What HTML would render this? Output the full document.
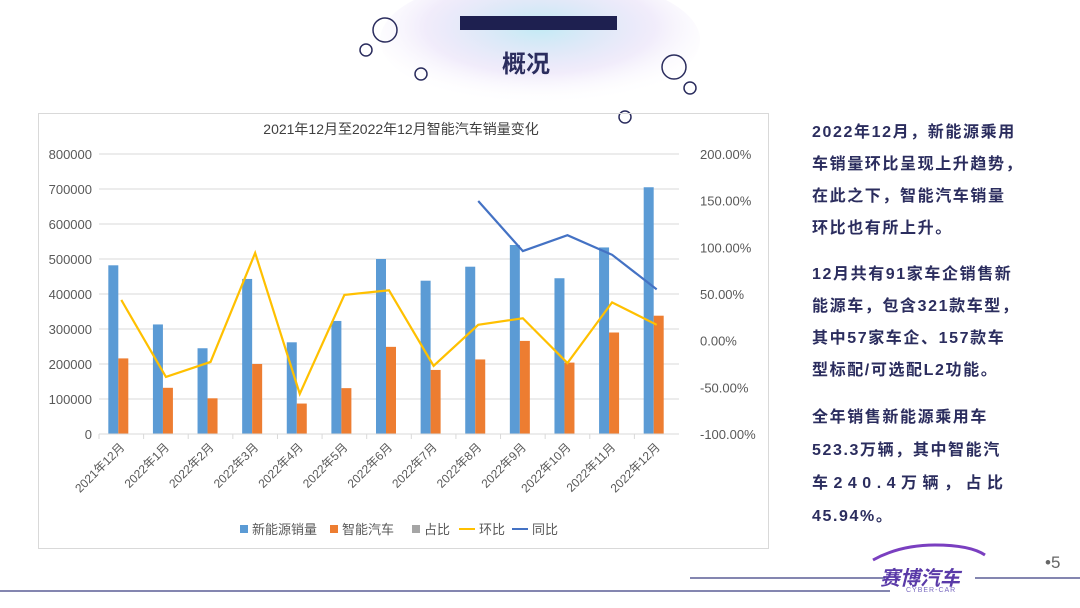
<!DOCTYPE html>
<html><head><meta charset="utf-8"><style>
body{margin:0;width:1080px;height:608px;overflow:hidden;background:#fff;font-family:"Liberation Sans","Noto Sans CJK SC",sans-serif;position:relative}
.abs{position:absolute}
.txt{left:812px;white-space:nowrap;color:#2b2d5e;font-weight:bold;font-size:16px;line-height:32px;letter-spacing:1.6px}
</style></head><body>
<svg class="abs" style="left:0;top:0" width="1080" height="608">
<defs><radialGradient id="g1" cx="50%" cy="40%" r="60%"><stop offset="0" stop-color="#8fdcec" stop-opacity="0.55"/><stop offset="0.6" stop-color="#c7b4ee" stop-opacity="0.25"/><stop offset="1" stop-color="#fff" stop-opacity="0"/></radialGradient></defs>
<ellipse cx="540" cy="40" rx="160" ry="65" fill="url(#g1)"/>
<circle cx="385" cy="30" r="12" fill="none" stroke="#2b2d5e" stroke-width="1.5"/>
<circle cx="366" cy="50" r="6" fill="none" stroke="#2b2d5e" stroke-width="1.5"/>
<circle cx="421" cy="74" r="6" fill="none" stroke="#2b2d5e" stroke-width="1.5"/>
<circle cx="674" cy="67" r="12" fill="none" stroke="#2b2d5e" stroke-width="1.5"/>
<circle cx="690" cy="88" r="6" fill="none" stroke="#2b2d5e" stroke-width="1.5"/>
<circle cx="625" cy="117" r="6" fill="none" stroke="#2b2d5e" stroke-width="1.5"/>
<rect x="460" y="16" width="157" height="14" fill="#1e2050"/>
<line x1="690" y1="578" x2="885" y2="578" stroke="#3a3d80" stroke-width="1.2"/>
<line x1="975" y1="578" x2="1080" y2="578" stroke="#3a3d80" stroke-width="1.2"/>
<line x1="0" y1="591" x2="890" y2="591" stroke="#3a3d80" stroke-width="1.2"/>
<path d="M873 560 Q900 545 935 545 Q970 545 985 555" fill="none" stroke="#7a3fc0" stroke-width="3"/>
</svg>
<div class="abs" style="left:502px;top:44px;font-size:24px;font-weight:bold;color:#2b2d5e">概况</div>
<div class="abs" style="left:880px;top:562px;font-size:20px;font-weight:bold;font-style:italic;color:#5a3aa8">赛博汽车</div>
<div class="abs" style="left:906px;top:587px;font-size:7px;color:#7a6ac0;letter-spacing:1px">CYBER-CAR</div>
<div class="abs" style="left:1045px;top:553px;font-size:17px;color:#666">•5</div>

<div class="abs" style="left:38px;top:113px;width:729px;height:434px;border:1px solid #d9d9d9"></div>
<svg id="chart" class="abs" style="left:0;top:0" width="1080" height="608"></svg>

<div class="abs txt" style="top:117px">2022年12月，新能源乘用<br>车销量环比呈现上升趋势，<br>在此之下，智能汽车销量<br>环比也有所上升。</div>
<div class="abs txt" style="top:259px">12月共有91家车企销售新<br>能源车，包含321款车型，<br>其中57家车企、157款车<br>型标配/可选配L2功能。</div>
<div class="abs txt" style="top:401px;line-height:33px">全年销售新能源乘用车<br>523.3万辆，其中智能汽<br><span style="letter-spacing:5.5px">车240.4万辆，占比</span><br>45.94%。</div>

<script>
const categories=["2021年12月","2022年1月","2022年2月","2022年3月","2022年4月","2022年5月","2022年6月","2022年7月","2022年8月","2022年9月","2022年10月","2022年11月","2022年12月"];
const nevSales=[482000,313000,245000,443000,262000,323000,500000,438000,478000,540000,445000,533000,705000];
const smartSales=[216000,132000,102000,200000,87000,131000,249000,183000,213000,266000,204000,290000,338000];
const momPct=[43.6,-38.9,-22.8,94,-57,49,54,-27,17,24,-24,41,17];
const yoyPct=[null,null,null,null,null,null,null,null,149.6,96,113,92,55];
const leftTicks=[0,100000,200000,300000,400000,500000,600000,700000,800000];
const rightTicks=[-100,-50,0,50,100,150,200];
const NS="http://www.w3.org/2000/svg";
const svg=document.getElementById('chart');
const X0=99,X1=679,Y0=434,Y1=154;
const band=(X1-X0)/categories.length;
const xc=i=>X0+band*(i+0.5);
const yl=v=>Y0-(v/800000)*(Y0-Y1);
const yr=v=>Y0-((v+100)/300)*(Y0-Y1);
function mk(t,a,txt){const e=document.createElementNS(NS,t);for(const k in a)e.setAttribute(k,a[k]);if(txt!==undefined)e.textContent=txt;svg.appendChild(e);return e;}
let e=mk('text',{x:401,y:134,'font-size':14,fill:'#404040','text-anchor':'middle'},'2021年12月至2022年12月智能汽车销量变化');


leftTicks.forEach(t=>{
 let g=mk('line',{x1:X0,x2:X1,y1:yl(t),y2:yl(t),stroke:'#d9d9d9','stroke-width':1});
 
 
 let l=mk('text',{x:92,y:yl(t)+5,'font-size':13,fill:'#595959','text-anchor':'end'},String(t));
 
 
});
rightTicks.forEach(t=>{
 let l=mk('text',{x:700,y:yr(t)+5,'font-size':13,fill:'#595959'},t.toFixed(2)+'%');
 
 
});
categories.forEach((c,i)=>{
 let b=mk('rect',{x:xc(i)-13,y:yl(nevSales[i]),width:10,height:Y0-yl(nevSales[i]),fill:'#5b9bd5'});
 
 
 let o=mk('rect',{x:xc(i)-3,y:yl(smartSales[i]),width:10,height:Y0-yl(smartSales[i]),fill:'#ed7d31'});
 
 
 let tk=mk('line',{x1:X0+band*i,x2:X0+band*i,y1:Y0,y2:Y0+5,stroke:'#d9d9d9'});
 
 
 let l=mk('text',{x:xc(i)+4,y:Y0+14,'font-size':12,fill:'#595959','text-anchor':'end',transform:`rotate(-45 ${xc(i)+4} ${Y0+14})`},c);
 
 
});
let ax=mk('line',{x1:X0,x2:X1,y1:Y0,y2:Y0,stroke:'#d9d9d9'});


let mp=momPct.map((v,i)=>xc(i)+','+yr(v)).join(' ');
let ml=mk('polyline',{points:mp,fill:'none',stroke:'#ffc000','stroke-width':2.2});


let yp=yoyPct.map((v,i)=>v===null?null:xc(i)+','+yr(v)).filter(Boolean).join(' ');
let yl2=mk('polyline',{points:yp,fill:'none',stroke:'#4472c4','stroke-width':2.2});


const legend=[['新能源销量','#5b9bd5','r'],['智能汽车','#ed7d31','r'],['占比','#a5a5a5','r'],['环比','#ffc000','l'],['同比','#4472c4','l']];
const lx=[240,330,412,465,518];
legend.forEach((d,i)=>{
 let s=d[2]==='r'?mk('rect',{x:lx[i],y:525,width:8,height:8,fill:d[1]}):mk('line',{x1:lx[i]-6,x2:lx[i]+10,y1:529,y2:529,stroke:d[1],'stroke-width':2});
 
 
 let t=mk('text',{x:lx[i]+(d[2]==='r'?12:14),y:534,'font-size':13,fill:'#595959'},d[0]);
 
 
});
</script>
</body></html>
